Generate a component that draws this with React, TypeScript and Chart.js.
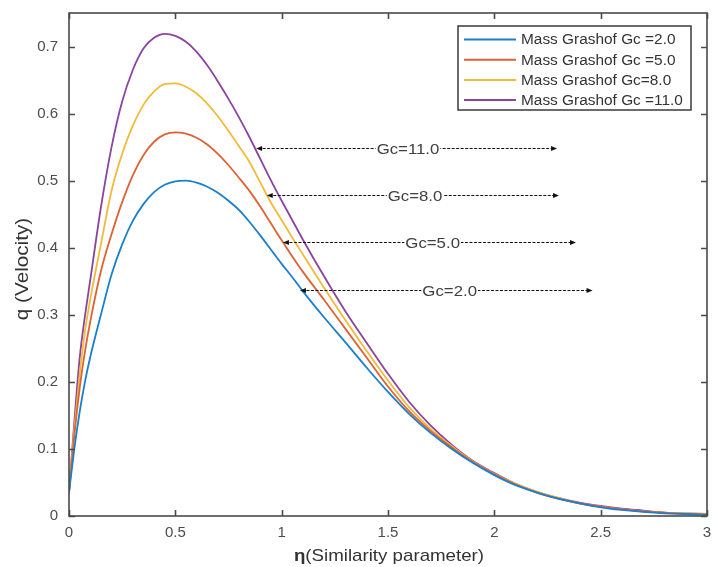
import React, { useEffect, useRef } from 'react';
import { Chart, registerables } from 'chart.js';
Chart.register(...registerables);

const eta = [0, 0.025, 0.05, 0.075, 0.1, 0.15, 0.2, 0.25, 0.3, 0.35, 0.4, 0.45, 0.5, 0.55, 0.6, 0.65, 0.7, 0.75, 0.8, 0.85, 0.9, 0.95, 1.0, 1.05, 1.1, 1.2, 1.3, 1.4, 1.5, 1.6, 1.7, 1.8, 1.9, 2.0, 2.1, 2.2, 2.3, 2.4, 2.5, 2.6, 2.7, 2.8, 2.9, 3.0];

const gc2 = [0.035, 0.10, 0.155, 0.20, 0.237, 0.30, 0.36, 0.405, 0.44, 0.465, 0.483, 0.494, 0.499, 0.500, 0.497, 0.491, 0.482, 0.470, 0.456, 0.438, 0.418, 0.397, 0.376, 0.356, 0.335, 0.296, 0.259, 0.221, 0.185, 0.152, 0.124, 0.100, 0.079, 0.061, 0.046, 0.035, 0.026, 0.019, 0.013, 0.009, 0.006, 0.004, 0.003, 0.002];
const gc5 = [0.035, 0.12, 0.19, 0.245, 0.29, 0.365, 0.42, 0.468, 0.508, 0.538, 0.558, 0.569, 0.572, 0.570, 0.564, 0.554, 0.540, 0.523, 0.504, 0.484, 0.461, 0.436, 0.411, 0.387, 0.364, 0.322, 0.279, 0.236, 0.193, 0.156, 0.127, 0.102, 0.080, 0.062, 0.047, 0.035, 0.026, 0.019, 0.014, 0.010, 0.007, 0.005, 0.003, 0.002];
const gc8 = [0.035, 0.13, 0.21, 0.275, 0.323, 0.405, 0.485, 0.54, 0.582, 0.613, 0.633, 0.644, 0.645, 0.640, 0.630, 0.615, 0.596, 0.574, 0.551, 0.527, 0.497, 0.467, 0.441, 0.415, 0.390, 0.340, 0.292, 0.246, 0.202, 0.162, 0.130, 0.104, 0.081, 0.063, 0.048, 0.036, 0.027, 0.019, 0.014, 0.010, 0.007, 0.005, 0.004, 0.003];
const gc11 = [0.035, 0.14, 0.235, 0.298, 0.352, 0.46, 0.55, 0.618, 0.665, 0.697, 0.713, 0.719, 0.716, 0.707, 0.692, 0.672, 0.648, 0.622, 0.594, 0.564, 0.532, 0.500, 0.470, 0.441, 0.412, 0.357, 0.305, 0.258, 0.212, 0.170, 0.135, 0.106, 0.082, 0.064, 0.048, 0.036, 0.027, 0.020, 0.015, 0.011, 0.008, 0.005, 0.004, 0.003];

const seriesNames = ['Mass Grashof Gc =2.0', 'Mass Grashof Gc =5.0', 'Mass Grashof Gc=8.0', 'Mass Grashof Gc =11.0'];
const seriesValues = [gc2, gc5, gc8, gc11];
const seriesColors = ['#1a7fcc', '#de6234', '#f0bb38', '#8a44a0'];

const xTicks = [0, 0.5, 1, 1.5, 2, 2.5, 3];
const yTicks = [0, 0.1, 0.2, 0.3, 0.4, 0.5, 0.6, 0.7];

const annText = ['Gc=11.0', 'Gc=8.0', 'Gc=5.0', 'Gc=2.0'];
const annY = [0.548, 0.478, 0.409, 0.337];
const annX0 = [0.88, 0.93, 1.006, 1.086];
const annX1 = [2.295, 2.304, 2.384, 2.462];
const annTextX = [1.594, 1.627, 1.71, 1.79];

const xTitleSymbol = 'η';
const xTitleRest = '(Similarity parameter)';
const yTitle = 'q (Velocity)';

const FONT = '"Liberation Sans", Arial, sans-serif';

function stretchedText(ctx: CanvasRenderingContext2D, text: string, x: number, y: number, font: string, sx: number, align: CanvasTextAlign, color: string) {
  ctx.save();
  ctx.translate(x, y);
  ctx.scale(sx, 1);
  ctx.font = font;
  ctx.textAlign = align;
  ctx.textBaseline = 'middle';
  ctx.fillStyle = color;
  ctx.fillText(text, 0, 0);
  ctx.restore();
}

const overlay = {
  id: 'overlay',
  afterDatasetsDraw(chart: any) {
    const { ctx, chartArea: a, scales } = chart;
    const xs = scales.x, ys = scales.y;
    ctx.save();
    // frame
    ctx.strokeStyle = '#4a4a4a';
    ctx.lineWidth = 1.6;
    ctx.strokeRect(a.left, a.top, a.right - a.left, a.bottom - a.top);
    ctx.beginPath();
    xTicks.forEach((v) => {
      const p = Math.round(xs.getPixelForValue(v)) + 0.5;
      ctx.moveTo(p, a.bottom); ctx.lineTo(p, a.bottom - 6);
      ctx.moveTo(p, a.top); ctx.lineTo(p, a.top + 6);
    });
    yTicks.forEach((v) => {
      const p = Math.round(ys.getPixelForValue(v)) + 0.5;
      ctx.moveTo(a.left, p); ctx.lineTo(a.left + 6, p);
      ctx.moveTo(a.right, p); ctx.lineTo(a.right - 6, p);
    });
    ctx.stroke();

    // annotations
    annText.forEach((t, i) => {
      const y = Math.round(ys.getPixelForValue(annY[i])) + 0.5;
      const x0 = xs.getPixelForValue(annX0[i]);
      const x1 = xs.getPixelForValue(annX1[i]);
      const xt = xs.getPixelForValue(annTextX[i]);
      ctx.strokeStyle = '#111';
      ctx.lineWidth = 1;
      ctx.setLineDash([3, 1.5]);
      ctx.beginPath();
      ctx.moveTo(x0 + 2, y); ctx.lineTo(x1 - 2, y);
      ctx.stroke();
      ctx.setLineDash([]);
      ctx.fillStyle = '#111';
      ctx.beginPath();
      ctx.moveTo(x0, y); ctx.lineTo(x0 + 6, y - 2.5); ctx.lineTo(x0 + 6, y + 2.5); ctx.closePath(); ctx.fill();
      ctx.beginPath();
      ctx.moveTo(x1, y); ctx.lineTo(x1 - 6, y - 2.5); ctx.lineTo(x1 - 6, y + 2.5); ctx.closePath(); ctx.fill();
      const font = `15px ${FONT}`;
      ctx.font = font;
      const w = ctx.measureText(t).width * 1.12;
      ctx.fillStyle = '#fff';
      ctx.fillRect(xt - w / 2 - 1, y - 8, w + 2, 16);
      stretchedText(ctx, t, xt, y + 1, font, 1.12, 'center', '#404040');
    });

    // legend
    const lx = 458, ly = 26, lw = 233, lh = 84;
    ctx.fillStyle = '#fff';
    ctx.fillRect(lx, ly, lw, lh);
    ctx.strokeStyle = '#3a3a3a';
    ctx.lineWidth = 1.5;
    ctx.strokeRect(lx, ly, lw, lh);
    seriesNames.forEach((n, i) => {
      const ry = 39.5 + i * 20.2;
      ctx.strokeStyle = seriesColors[i];
      ctx.lineWidth = 2;
      ctx.beginPath();
      ctx.moveTo(464, ry); ctx.lineTo(516, ry);
      ctx.stroke();
      stretchedText(ctx, n, 521, ry + 1, `14px ${FONT}`, 1.1, 'left', '#333');
    });

    // x title
    const fb = `bold 17px ${FONT}`;
    const fr = `17px ${FONT}`;
    ctx.font = fb;
    const wb = ctx.measureText(xTitleSymbol).width;
    ctx.font = fr;
    const wr = ctx.measureText(xTitleRest).width;
    const sx = 1.1;
    const total = (wb + wr) * sx;
    const startX = 389 - total / 2;
    stretchedText(ctx, xTitleSymbol, startX, 556, fb, sx, 'left', '#333');
    stretchedText(ctx, xTitleRest, startX + wb * sx, 556, fr, sx, 'left', '#333');

    // y title
    ctx.save();
    ctx.translate(23, 269);
    ctx.rotate(-Math.PI / 2);
    stretchedText(ctx, yTitle, 0, 0, `18px ${FONT}`, 1.15, 'center', '#333');
    ctx.restore();

    ctx.restore();
  },
};

export default function App() {
  const ref = useRef<HTMLCanvasElement | null>(null);
  useEffect(() => {
    if (!ref.current) return;
    const chart = new Chart(ref.current, {
      type: 'line',
      data: {
        datasets: seriesValues.map((vals, i) => ({
          label: seriesNames[i],
          data: eta.map((x, j) => ({ x, y: vals[j] })),
          borderColor: seriesColors[i],
          backgroundColor: seriesColors[i],
          borderWidth: 1.8,
          pointRadius: 0,
          cubicInterpolationMode: 'monotone' as const,
          fill: false,
        })),
      },
      options: {
        animation: false,
        responsive: false,
        layout: { padding: { top: 13, right: 8, left: 0, bottom: 0 } },
        plugins: { legend: { display: false }, tooltip: { enabled: false } },
        scales: {
          x: {
            type: 'linear',
            min: 0,
            max: 3,
            afterBuildTicks: (s: any) => { s.ticks = xTicks.map((v) => ({ value: v })); },
            afterFit: (s: any) => { s.height = 51; s.paddingLeft = 0; s.paddingRight = 0; },
            grid: { display: false, drawTicks: false },
            border: { display: false },
            ticks: { padding: 8, color: '#4d4d4d', font: { family: FONT, size: 15 }, maxRotation: 0, callback: (v: any) => String(v) },
          },
          y: {
            type: 'linear',
            min: 0,
            max: 0.75,
            afterBuildTicks: (s: any) => { s.ticks = yTicks.map((v) => ({ value: v })); },
            afterFit: (s: any) => { s.width = 69; s.paddingTop = 0; s.paddingBottom = 0; },
            grid: { display: false, drawTicks: false },
            border: { display: false },
            ticks: { padding: 11, color: '#4d4d4d', font: { family: FONT, size: 15 }, callback: (v: any) => String(v) },
          },
        },
      },
      plugins: [overlay],
    });
    return () => chart.destroy();
  }, []);
  return (
    <div style={{ position: 'absolute', left: 0, top: 0, width: 715, height: 567, background: '#fff' }}>
      <canvas ref={ref} width={715} height={567} style={{ width: 715, height: 567, display: 'block' }} />
    </div>
  );
}
